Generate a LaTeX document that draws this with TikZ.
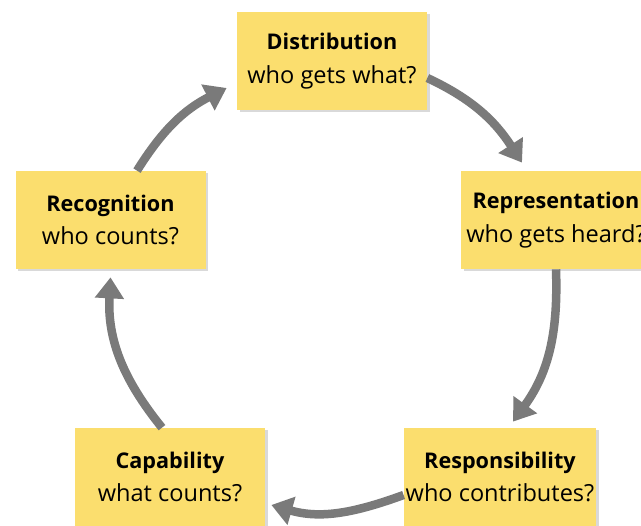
\documentclass[tikz,border=0pt]{standalone}
\usepackage{fontspec}
\setmainfont{Open Sans}
\usetikzlibrary{arrows.meta,shadows}

\definecolor{boxyellow}{RGB}{251,222,110}
\definecolor{arrowgrey}{RGB}{122,122,122}

\newcommand{\stagetitle}[1]{{\fontsize{12.3}{18.8}\selectfont\bfseries #1}}

\tikzset{
    stage/.style={fill=boxyellow, minimum width=3.8cm, minimum height=1.96cm,
        inner xsep=1pt, align=center, font=\fontsize{13.4}{19.2}\selectfont,
        drop shadow={shadow xshift=0.05cm, shadow yshift=-0.05cm, opacity=0.3}},
    cyclearrow/.style={draw=arrowgrey, line width=0.17cm,
        -{Triangle[length=0.42cm,width=0.56cm]}}
}

\begin{document}
\begin{tikzpicture}
        \useasboundingbox (0,0) rectangle (12.82,-10.52);

        % Stages
        \node[stage] (dist) at (6.64,-1.22) {\stagetitle{Distribution}\\who gets what?};
        \node[stage] (rep) at (11.12,-4.4) {\stagetitle{Representation}\\who gets heard?};
        \node[stage] (resp) at (10.0,-9.54) {\stagetitle{Responsibility}\\who contributes?};
        \node[stage] (cap) at (3.4,-9.54) {\stagetitle{Capability}\\what counts?};
        \node[stage] (rec) at (2.21,-4.4) {\stagetitle{Recognition}\\who counts?};

        % Cycle arrows
        \draw[cyclearrow] ([yshift=-0.34cm]dist.east) to[out=-25, in=123]
            ([shift={(-0.68,0.16)}]rep.north);
        \draw[cyclearrow] (rep.south) to[out=-88, in=54]
            ([shift={(0.26,0.12)}]resp.north);
        \draw[cyclearrow] ([yshift=-0.36cm]resp.west) to[out=200, in=-16]
            ([shift={(0.12,-0.56)}]cap.east);
        \draw[cyclearrow] ([xshift=-0.16cm]cap.north) to[out=129, in=-93]
            ([yshift=-0.16cm]rec.south);
        \draw[cyclearrow] ([xshift=0.53cm]rec.north) to[out=58, in=207]
            ([shift={(-0.2,-0.54)}]dist.west);
\end{tikzpicture}
\end{document}
